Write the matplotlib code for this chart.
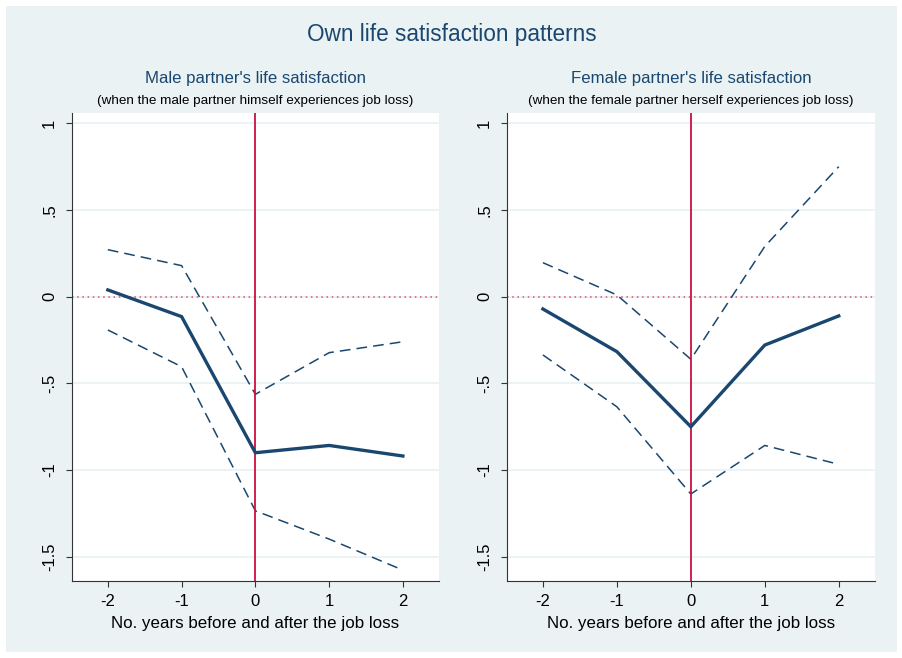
import matplotlib
matplotlib.use("Agg")
import matplotlib.pyplot as plt
from matplotlib.patches import Rectangle

plt.rcParams['font.family'] = ['Liberation Sans', 'DejaVu Sans']

years = [-2, -1, 0, 1, 2]

male_est = [0.039, -0.115, -0.900, -0.858, -0.919]
male_upper = [0.271, 0.179, -0.563, -0.323, -0.260]
male_lower = [-0.192, -0.404, -1.235, -1.398, -1.577]

female_est = [-0.071, -0.317, -0.750, -0.279, -0.111]
female_upper = [0.196, 0.010, -0.361, 0.290, 0.750]
female_lower = [-0.336, -0.635, -1.138, -0.858, -0.967]

ytick_vals = [1, 0.5, 0, -0.5, -1, -1.5]
ytick_labels = ['1', '.5', '0', '-.5', '-1', '-1.5']

panel_titles = ["Male partner's life satisfaction", "Female partner's life satisfaction"]
panel_notes = ["(when the male partner himself experiences job loss)",
               "(when the female partner herself experiences job loss)"]
main_title = "Own life satisfaction patterns"
xlabel = "No. years before and after the job loss"

navy = '#1a476f'
red = '#cc1040'
dotred = '#e0506e'
bg = '#eaf2f3'

fig = plt.figure(figsize=(9.03, 6.58), dpi=100)
fig.patch.set_facecolor('white')
fig.add_artist(Rectangle((6 / 903, 6 / 658), 1 - 12 / 903, 1 - 12 / 658,
                         transform=fig.transFigure, facecolor=bg,
                         edgecolor='none', zorder=-10))

fig.text(0.5, 1 - 35 / 658, main_title, ha='center', va='center',
         fontsize=16.3, color=navy)

positions = [[0.0794, 0.1175, 0.4068, 0.7112], [0.5611, 0.1175, 0.4079, 0.7112]]
data = [(male_est, male_upper, male_lower), (female_est, female_upper, female_lower)]

for i, (pos, (est, up, lo)) in enumerate(zip(positions, data)):
    ax = fig.add_axes(pos)
    ax.set_facecolor('white')
    ax.set_xlim(-2.49, 2.49)
    ax.set_ylim(-1.638, 1.061)
    for v in ytick_vals:
        ax.axhline(v, color=bg, lw=1.3, zorder=0)
    ax.axhline(0, color=dotred, lw=1.1, ls=(0, (1, 2.4)), zorder=1)
    ax.axvline(0, color=red, lw=1.3, zorder=3)
    ax.plot(years, up, color=navy, lw=1.1, ls=(0, (7, 4)), zorder=2)
    ax.plot(years, lo, color=navy, lw=1.1, ls=(0, (7, 4)), zorder=2)
    ax.plot(years, est, color=navy, lw=2.4, zorder=4, solid_joinstyle='miter')
    ax.set_yticks(ytick_vals)
    ax.set_yticklabels(ytick_labels, rotation=90, va='center', fontsize=12)
    ax.set_xticks(years)
    ax.set_xticklabels([str(y) for y in years], fontsize=12)
    ax.tick_params(axis='x', direction='out', length=4.5, width=0.8,
                   color='#333333', labelcolor='black', pad=5)
    ax.tick_params(axis='y', direction='out', length=4.5, width=0.8,
                   color='#333333', labelcolor='black', pad=6)
    for s in ['top', 'right']:
        ax.spines[s].set_visible(False)
    for s in ['left', 'bottom']:
        ax.spines[s].set_color('#333333')
        ax.spines[s].set_linewidth(0.8)
    ax.set_xlabel(xlabel, fontsize=12.2, labelpad=5)
    cx = pos[0] + pos[2] / 2
    fig.text(cx, 1 - 79 / 658, panel_titles[i], ha='center', va='center',
             fontsize=12.1, color=navy)
    fig.text(cx, 1 - 101 / 658, panel_notes[i], ha='center', va='center',
             fontsize=9.7, color='black')

fig.savefig('out.png', dpi=100, facecolor=fig.get_facecolor())
